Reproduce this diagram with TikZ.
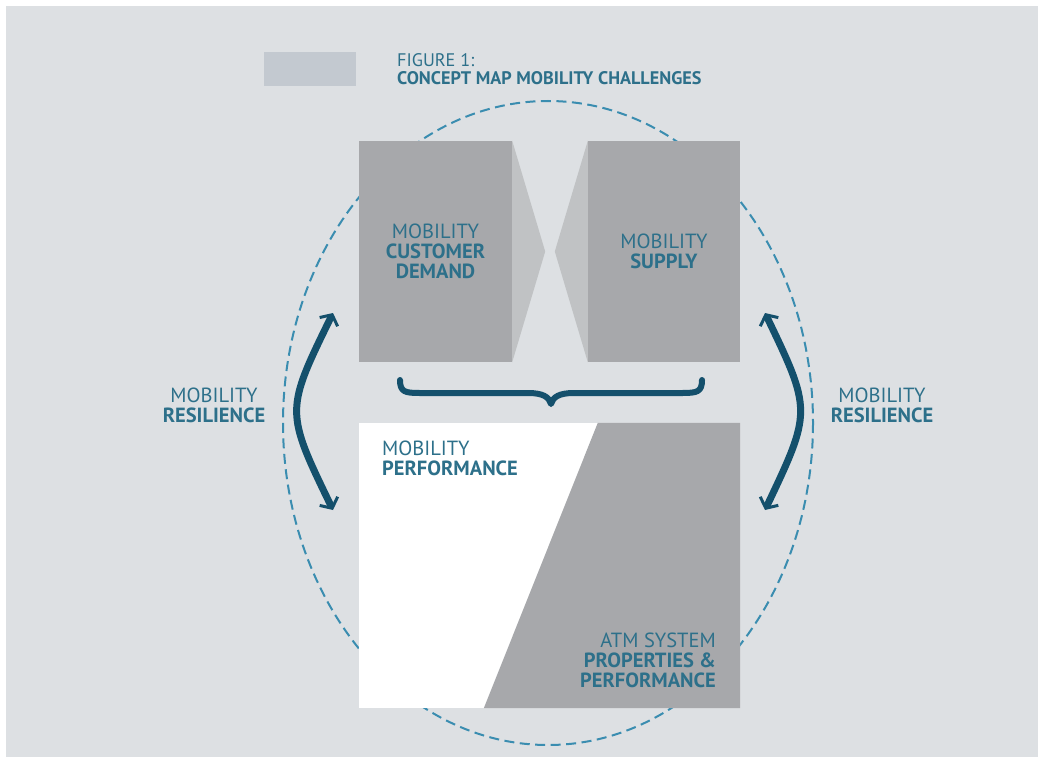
\documentclass[tikz,border=0pt]{standalone}
\usepackage{fontspec}
\setmainfont{PT Sans}
\usepackage{xcolor}
\usetikzlibrary{arrows.meta,calc,positioning}

\definecolor{panelgray}{RGB}{221,224,227}
\definecolor{legendgray}{RGB}{195,201,208}
\definecolor{boxgray}{RGB}{167,168,171}
\definecolor{wedgegray}{RGB}{192,194,196}
\definecolor{labelteal}{RGB}{45,112,138}
\definecolor{arrowteal}{RGB}{20,80,108}
\definecolor{dashteal}{RGB}{58,141,176}

\begin{document}
\begin{tikzpicture}
    [   x = 1pt
    ,   y = -1pt
    ,   block/.style=
        {   fill = boxgray
        ,   inner sep = 0pt
        ,   align = center
        ,   text = labelteal
        ,   font = \fontsize{20.5}{20}\selectfont
        }
    ,   mtext/.style=
        {   inner sep = 0pt
        ,   text = labelteal
        ,   font = \fontsize{20.5}{20}\selectfont
        }
    ,   wedge/.style = {fill = wedgegray}
    ,   resilience/.style=
        {   draw = arrowteal
        ,   line width = 7pt
        ,   {Straight Barb[length=8pt,width=20pt,line width=3pt]}-{Straight Barb[length=8pt,width=20pt,line width=3pt]}
        }
    ]
    \useasboundingbox (0,0) rectangle (1038,757);
    \fill[panelgray] (6,6) rectangle (1038,757);

    % legend and title
    \fill[legendgray] (264,52) rectangle (356,86);
    \node[mtext, anchor=west, align=left, font=\fontsize{18.2}{18.5}\selectfont] (title) at (397,69)
        {FIGURE 1:\\\textbf{CONCEPT MAP MOBILITY CHALLENGES}};

    % outer dashed ellipse
    \draw[dashteal, line width=2pt, dash pattern=on 10pt off 5.5pt] (548,423) ellipse [x radius=265, y radius=322];

    % top boxes
    \node[block, minimum width=153pt, minimum height=221pt] (demand) at (435.5,251.5)
        {MOBILITY\\\textbf{CUSTOMER}\\\textbf{DEMAND}};
    \node[block, minimum width=152pt, minimum height=221pt] (supply) at (664,251.5)
        {MOBILITY\\\textbf{SUPPLY}};
    \fill[wedge] (demand.north east) -- ($(demand.east)+(33,0)$) -- (demand.south east) -- cycle;
    \fill[wedge] (supply.north west) -- ($(supply.west)+(-33,0)$) -- (supply.south west) -- cycle;

    % bottom box
    \node[fill=white, inner sep=0pt, minimum width=381pt, minimum height=285pt] (system) at (549.5,565.5) {};
    \fill[boxgray] ($(system.north west)+(239,0)$) -- (system.north east) -- (system.south east)
        -- ($(system.south west)+(125,0)$) -- cycle;
    \node[mtext, anchor=west, align=left] (perf) at (382,458) {MOBILITY\\\textbf{PERFORMANCE}};
    \node[mtext, anchor=east, align=right] (atm) at (716,660)
        {ATM SYSTEM\\\textbf{PROPERTIES \&}\\\textbf{PERFORMANCE}};

    % brace
    \draw[arrowteal, line width=6pt, line cap=round, line join=round]
        (400,380) .. controls (400,392) and (405,393) .. (420,393) -- (528,393)
        .. controls (543,393) and (549,397) .. (551,404)
        .. controls (553,397) and (559,393) .. (574,393) -- (682,393)
        .. controls (697,393) and (702,392) .. (702,380);

    % resilience arrows
    \coordinate (lt) at (333,313);
    \coordinate (lb) at (333,510);
    \coordinate (rt) at (765,313);
    \coordinate (rb) at (765,510);
    \draw[resilience] (lt) .. controls (285,411) .. (lb);
    \draw[resilience] (rt) .. controls (812,411) .. (rb);
    \node[mtext, align=center] (resl) at (214,405) {MOBILITY\\\textbf{RESILIENCE}};
    \node[mtext, align=center] (resr) at (882,405) {MOBILITY\\\textbf{RESILIENCE}};
\end{tikzpicture}
\end{document}
